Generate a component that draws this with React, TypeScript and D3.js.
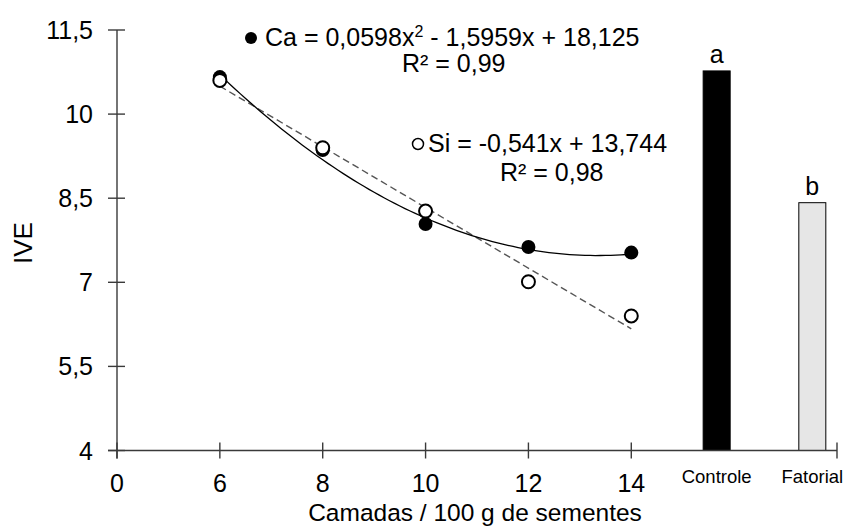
import React from 'react';
import * as d3 from 'd3';

// data
const doses = [6, 8, 10, 12, 14];
const caValues = [10.66, 9.36, 8.04, 7.63, 7.53];
const siValues = [10.6, 9.4, 8.27, 7.01, 6.4];
const caCoef = [0.0598, -1.5959, 18.125];
const siCoef = [-0.541, 13.744];

const barLabels = ['Controle', 'Fatorial'];
const barValues = [10.77, 8.42];
const barLetters = ['a', 'b'];

const xTickValues = [4, 6, 8, 10, 12, 14];
const xTickLabels = ['0', '6', '8', '10', '12', '14'];
const yTickValues = [4, 5.5, 7, 8.5, 10, 11.5];

const W = 843;
const H = 531;
const font = '"Liberation Sans", Arial, sans-serif';
const axisColor = '#3a3a3a';

// first numeric tick sits at a broken "0"; bars share the same axis
const barSlots = [15.66, 17.52];

const App: React.FC = () => {
  const x = d3.scaleLinear().domain([4, 18]).range([117, 837]);
  const y = d3.scaleLinear().domain([4, 11.5]).range([450.5, 30]);

  const barW = 27;

  const caLine = d3
    .line<number>()
    .x((d) => x(d))
    .y((d) => y(caCoef[0] * d * d + caCoef[1] * d + caCoef[2]));
  const caPts = d3.range(6, 14.001, 0.1);

  const siLine = d3
    .line<number>()
    .x((d) => x(d))
    .y((d) => y(siCoef[0] * d + siCoef[1]));

  const x0 = x(4);
  const y0 = y(4);

  return (
    <svg
      width={W}
      height={H}
      style={{ position: 'absolute', left: 0, top: 0, background: '#fff' }}
      fontFamily={font}
    >
      <rect width={W} height={H} fill="#fff" />

      {/* bars */}
      {barValues.map((v, i) => (
        <g key={barLabels[i]}>
          <rect
            x={x(barSlots[i]) - barW / 2}
            y={y(v)}
            width={barW}
            height={y0 - y(v)}
            fill={i === 0 ? '#000' : '#e6e6e6'}
            stroke="#000"
            strokeWidth={1}
          />
          <text x={x(barSlots[i])} y={y(v) - 8} textAnchor="middle" fontSize={25} fill="#000">
            {barLetters[i]}
          </text>
          <text x={x(barSlots[i])} y={483} textAnchor="middle" fontSize={18.5} fill="#000">
            {barLabels[i]}
          </text>
        </g>
      ))}

      {/* axes */}
      <line x1={x0} x2={x0} y1={y(11.5)} y2={y0 + 8} stroke={axisColor} strokeWidth={1.4} />
      <line x1={x0 - 9} x2={x(18)} y1={y0} y2={y0} stroke={axisColor} strokeWidth={1.4} />
      {yTickValues.map((t) => (
        <g key={t}>
          <line x1={x0 - 9} x2={x0 + 8} y1={y(t)} y2={y(t)} stroke={axisColor} strokeWidth={1.4} />
          <text x={93} y={y(t)} dy="0.36em" textAnchor="end" fontSize={25} fill="#000">
            {String(t).replace('.', ',')}
          </text>
        </g>
      ))}
      {xTickValues.map((t, i) => (
        <g key={t}>
          <line x1={x(t)} x2={x(t)} y1={y0 - 8} y2={y0 + 8} stroke={axisColor} strokeWidth={1.4} />
          <text x={x(t)} y={492} textAnchor="middle" fontSize={25} fill="#000">
            {xTickLabels[i]}
          </text>
        </g>
      ))}
      <line x1={x(18)} x2={x(18)} y1={y0 - 8} y2={y0 + 8} stroke={axisColor} strokeWidth={1.4} />

      <text x={475} y={521} textAnchor="middle" fontSize={24.5} fill="#000">
        Camadas / 100 g de sementes
      </text>
      <text transform="translate(32,243) rotate(-90)" textAnchor="middle" fontSize={26} fill="#000">
        IVE
      </text>

      {/* trend lines */}
      <path d={siLine([6, 14]) || ''} fill="none" stroke="#555" strokeWidth={1.4} strokeDasharray="7,4" />
      <path d={caLine(caPts) || ''} fill="none" stroke="#000" strokeWidth={1.3} />

      {/* points */}
      {doses.map((d, i) => (
        <circle key={'ca' + d} cx={x(d)} cy={y(caValues[i])} r={7} fill="#000" />
      ))}
      {doses.map((d, i) => (
        <circle
          key={'si' + d}
          cx={x(d)}
          cy={y(siValues[i])}
          r={6.5}
          fill="#fff"
          stroke="#000"
          strokeWidth={2}
        />
      ))}

      {/* equations */}
      <circle cx={251} cy={38} r={6} fill="#000" />
      <text x={265} y={46} fontSize={25} fill="#000">
        Ca = 0,0598x<tspan dy={-9} fontSize={16}>2</tspan>
        <tspan dy={9}> - 1,5959x + 18,125</tspan>
      </text>
      <text x={402} y={72} fontSize={25} fill="#000">
        R² = 0,99
      </text>

      <circle cx={418} cy={144} r={5.5} fill="#fff" stroke="#000" strokeWidth={1.5} />
      <text x={428} y={152} fontSize={25} fill="#000">
        Si = -0,541x + 13,744
      </text>
      <text x={500} y={181} fontSize={25} fill="#000">
        R² = 0,98
      </text>
    </svg>
  );
};

export default App;
